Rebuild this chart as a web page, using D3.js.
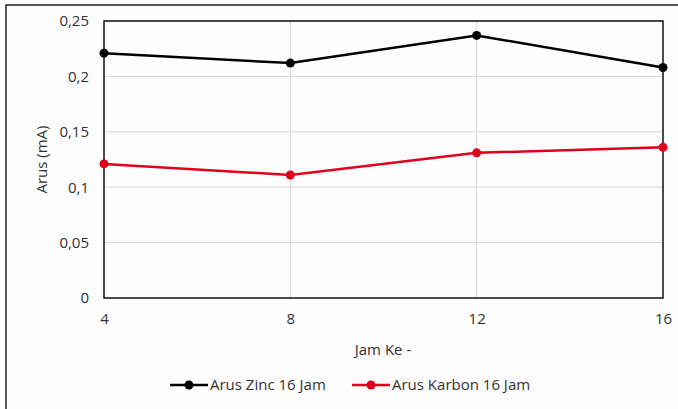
<!DOCTYPE html>
<html>
<head>
<meta charset="utf-8">
<script src="https://cdn.jsdelivr.net/npm/d3@7"></script>
<style>
  body { margin: 0; background: #fff; }
  svg text { font-family: "Open Sans", "Noto Sans", sans-serif; fill: #333; }
</style>
</head>
<body>
<div id="chart"></div>
<script>
// Hours (x categories) and measured currents for each electrode
const hours = [4, 8, 12, 16];
const zincCurrent = [0.221, 0.212, 0.237, 0.208];
const carbonCurrent = [0.121, 0.111, 0.131, 0.136];
const yTicks = [0, 0.05, 0.1, 0.15, 0.2, 0.25];
const seriesNames = ["Arus Zinc 16 Jam", "Arus Karbon 16 Jam"];
const seriesColors = ["#000000", "#e0001b"];

const W = 678, H = 409;
const margin = { left: 104, right: 15, top: 21, bottom: 111 };
const FS = 15;

const svg = d3.select("#chart").append("svg")
  .attr("width", W).attr("height", H);

// Frame of the chart area
svg.append("rect").attr("x", 0).attr("y", 0).attr("width", W).attr("height", H).attr("fill", "#fff");
svg.append("rect").attr("x", 6).attr("y", 5).attr("width", W + 10).attr("height", H + 10)
  .attr("fill", "#fdfdfd").attr("stroke", "#222").attr("stroke-width", 1.5);

const x = d3.scaleLinear().domain([4, 16]).range([margin.left, W - margin.right]);
const y = d3.scaleLinear().domain([0, 0.25]).range([H - margin.bottom, margin.top]);

const fmt = v => String(+v.toFixed(2)).replace(".", ",");

// Horizontal gridlines
svg.append("g").selectAll("line").data(yTicks.slice(1)).join("line")
  .attr("x1", x(4)).attr("x2", x(16))
  .attr("y1", d => y(d)).attr("y2", d => y(d))
  .attr("stroke", "#d9d9d9").attr("stroke-width", 1);
// Vertical gridlines
svg.append("g").selectAll("line").data(hours.slice(1, -1)).join("line")
  .attr("x1", d => x(d)).attr("x2", d => x(d))
  .attr("y1", y(0)).attr("y2", y(0.25))
  .attr("stroke", "#d9d9d9").attr("stroke-width", 1);

// Plot border
svg.append("rect").attr("x", x(4)).attr("y", y(0.25))
  .attr("width", x(16) - x(4)).attr("height", y(0) - y(0.25))
  .attr("fill", "none").attr("stroke", "#111").attr("stroke-width", 1.5);

// Axes
const yAxis = svg.append("g").attr("transform", `translate(${x(4)},0)`)
  .call(d3.axisLeft(y).tickValues(yTicks).tickFormat(fmt).tickSize(0).tickPadding(15));
yAxis.select(".domain").remove();
yAxis.selectAll("text").attr("font-size", FS).attr("fill", "#333");

const xAxis = svg.append("g").attr("transform", `translate(0,${y(0)})`)
  .call(d3.axisBottom(x).tickValues(hours).tickFormat(d3.format("d")).tickSize(0).tickPadding(15));
xAxis.select(".domain").remove();
xAxis.selectAll("text").attr("font-size", FS).attr("fill", "#333");

// Axis titles
svg.append("text").attr("x", 383).attr("y", 355).attr("text-anchor", "middle")
  .attr("font-size", FS).text("Jam Ke -");
svg.append("text").attr("transform", `translate(47,${(y(0) + y(0.25)) / 2}) rotate(-90)`)
  .attr("text-anchor", "middle").attr("font-size", FS).text("Arus (mA)");

// Lines and markers
const line = d3.line().x((d, i) => x(hours[i])).y(d => y(d));
[zincCurrent, carbonCurrent].forEach((vals, k) => {
  svg.append("path").datum(vals).attr("d", line)
    .attr("fill", "none").attr("stroke", seriesColors[k]).attr("stroke-width", 2.5);
  svg.append("g").selectAll("circle").data(vals).join("circle")
    .attr("cx", (d, i) => x(hours[i])).attr("cy", d => y(d)).attr("r", 4.5)
    .attr("fill", seriesColors[k]);
});

// Legend
const legendItems = [{ x0: 170, tx: 210 }, { x0: 352, tx: 392 }];
legendItems.forEach((it, k) => {
  const g = svg.append("g");
  g.append("line").attr("x1", it.x0).attr("x2", it.x0 + 38).attr("y1", 385).attr("y2", 385)
    .attr("stroke", seriesColors[k]).attr("stroke-width", 2.5);
  g.append("circle").attr("cx", it.x0 + 19).attr("cy", 385).attr("r", 4.5).attr("fill", seriesColors[k]);
  g.append("text").attr("x", it.tx).attr("y", 390).attr("font-size", FS).text(seriesNames[k]);
});
</script>
</body>
</html>
